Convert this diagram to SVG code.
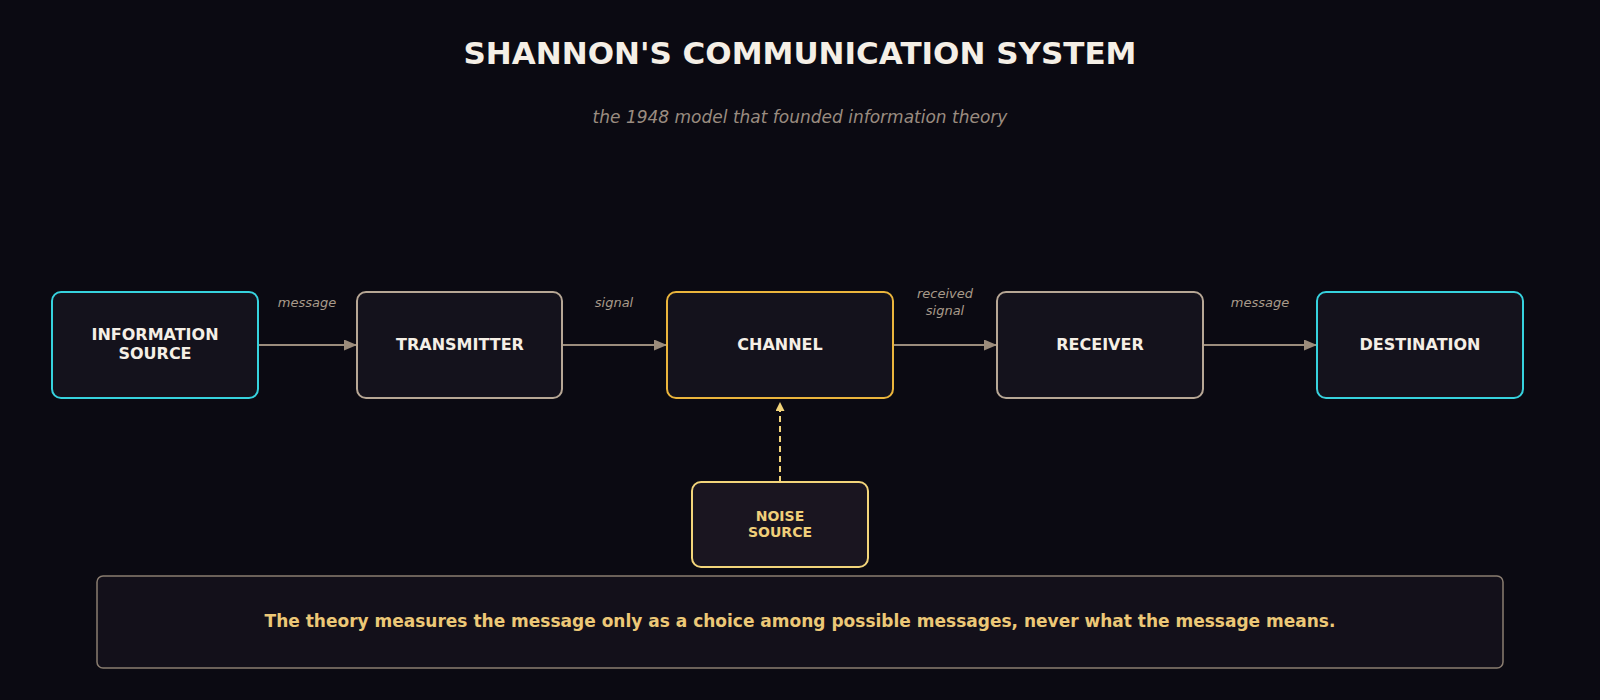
<svg xmlns="http://www.w3.org/2000/svg" width="1600" height="700" viewBox="0 0 1600 700">
<defs>
<style>
text{font-family:"DejaVu Sans","Liberation Sans",sans-serif;text-anchor:middle}
.node{fill:#14121c;stroke-width:2}
.cyan{stroke:#36d2de}
.tan{stroke:#b7a795}
.gold{stroke:#ebb53c}
.nt{fill:#f5efe6;font-weight:bold;font-size:16px}
.lbl{fill:#a89a8a;font-style:italic;font-size:13px}
.conn{stroke:#9b8c7c;stroke-width:2;fill:none}
</style>
<marker id="ah" viewBox="0 0 13 11" refX="13" refY="5.5" markerWidth="13" markerHeight="11" orient="auto" markerUnits="userSpaceOnUse">
<path d="M0,0L13,5.5L0,11z" fill="#9b8c7c"/>
</marker>
<marker id="ahy" viewBox="0 0 9 9" refX="9" refY="4.5" markerWidth="9" markerHeight="9" orient="auto" markerUnits="userSpaceOnUse">
<path d="M0,0L9,4.5L0,9z" fill="#f2d47a"/>
</marker>
</defs>
<rect width="1600" height="700" fill="#0b0a12"/>
<text x="800" y="64" font-size="31" font-weight="bold" fill="#f5efe6">SHANNON'S COMMUNICATION SYSTEM</text>
<text x="800" y="123" font-size="17" font-style="italic" fill="#9a8c80">the 1948 model that founded information theory</text>

<g id="connectors">
<line class="conn" x1="258" y1="345" x2="357" y2="345" marker-end="url(#ah)"/>
<line class="conn" x1="562" y1="345" x2="667" y2="345" marker-end="url(#ah)"/>
<line class="conn" x1="893" y1="345" x2="997" y2="345" marker-end="url(#ah)"/>
<line class="conn" x1="1203" y1="345" x2="1317" y2="345" marker-end="url(#ah)"/>
<line x1="780" y1="482" x2="780" y2="402" stroke="#f2d47a" stroke-width="2" stroke-dasharray="6,4" marker-end="url(#ahy)"/>
<text class="lbl" x="307" y="307">message</text>
<text class="lbl" x="614" y="307">signal</text>
<text class="lbl" x="945" y="298">received</text>
<text class="lbl" x="945" y="315">signal</text>
<text class="lbl" x="1260" y="307">message</text>
</g>

<g id="info-source">
<rect class="node cyan" x="52" y="292" width="206" height="106" rx="9"/>
<text class="nt" x="155" y="340">INFORMATION</text>
<text class="nt" x="155" y="359">SOURCE</text>
</g>
<g id="transmitter">
<rect class="node tan" x="357" y="292" width="205" height="106" rx="9"/>
<text class="nt" x="460" y="350">TRANSMITTER</text>
</g>
<g id="channel">
<rect class="node gold" x="667" y="292" width="226" height="106" rx="9"/>
<text class="nt" x="780" y="350">CHANNEL</text>
</g>
<g id="receiver">
<rect class="node tan" x="997" y="292" width="206" height="106" rx="9"/>
<text class="nt" x="1100" y="350">RECEIVER</text>
</g>
<g id="destination">
<rect class="node cyan" x="1317" y="292" width="206" height="106" rx="9"/>
<text class="nt" x="1420" y="350">DESTINATION</text>
</g>
<g id="noise-source">
<rect x="692" y="482" width="176" height="85" rx="9" fill="#1a1520" stroke="#f2d47a" stroke-width="2"/>
<text x="780" y="521" font-size="14" font-weight="bold" fill="#f0cf7a">NOISE</text>
<text x="780" y="537" font-size="14" font-weight="bold" fill="#f0cf7a">SOURCE</text>
</g>
<g id="note">
<rect x="97" y="576" width="1406" height="92" rx="6" fill="#13101a" stroke="#8a7d70" stroke-width="1.5"/>
<text x="800" y="627" font-size="17" font-weight="bold" fill="#ecc877">The theory measures the message only as a choice among possible messages, never what the message means.</text>
</g>
</svg>
